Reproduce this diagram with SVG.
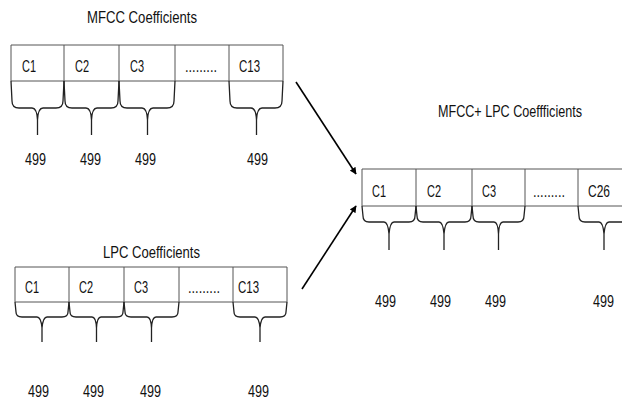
<svg xmlns="http://www.w3.org/2000/svg" width="622" height="400" viewBox="0 0 622 400">
<style>
text{font-family:"Liberation Sans Narrow","Liberation Sans",sans-serif;fill:#111}
.t{font-size:16px}
.c{font-size:17px}
.n{font-size:17px}
.box{fill:none;stroke:#555;stroke-width:1}
.br{fill:none;stroke:#222;stroke-width:1.3}
.ar{stroke:#000;stroke-width:1.6;fill:none}
</style>
<defs>
<marker id="ah" viewBox="0 0 10 10" refX="9" refY="5" markerWidth="7" markerHeight="7" orient="auto" markerUnits="userSpaceOnUse">
<path d="M0,0 L10,5 L0,10 z" fill="#000"/>
</marker>
</defs>
<rect width="622" height="400" fill="#fff"/>

<g id="mfcc">
<text class="t" x="87" y="23" textLength="110" lengthAdjust="spacingAndGlyphs">MFCC Coefficients</text>
<path class="box" d="M11,45 H283 M11,81 H283 M11,45 V81 M64,45 V81 M119,45 V81 M175,45 V81 M229,45 V81 M283,45 V81"/>
<text class="c" x="22" y="72" textLength="14" lengthAdjust="spacingAndGlyphs">C1</text>
<text class="c" x="75" y="72" textLength="14" lengthAdjust="spacingAndGlyphs">C2</text>
<text class="c" x="130" y="72" textLength="14" lengthAdjust="spacingAndGlyphs">C3</text>
<text class="c" x="185" y="72" textLength="32" lengthAdjust="spacingAndGlyphs">.........</text>
<text class="c" x="239" y="72" textLength="21" lengthAdjust="spacingAndGlyphs">C13</text>
<path class="br" d="M11,81 L12,101 Q12,108 19,108 L32,108 Q37,108 37.5,120 L37.5,135 M37.5,120 Q38,108 43,108 L56,108 Q63,108 63,101 L64,81"/>
<path class="br" d="M64,81 L65,101 Q65,108 72,108 L86,108 Q91,108 91.5,120 L91.5,135 M91.5,120 Q92,108 97,108 L111,108 Q118,108 118,101 L119,81"/>
<path class="br" d="M119,81 L120,101 Q120,108 127,108 L142,108 Q147,108 147.5,120 L147.5,135 M147.5,120 Q148,108 153,108 L167,108 Q174,108 174,101 L175,81"/>
<path class="br" d="M229,81 L230,101 Q230,108 237,108 L251,108 Q256,108 256.5,120 L256.5,135 M256.5,120 Q257,108 262,108 L275,108 Q282,108 282,101 L283,81"/>
<text class="n" x="25" y="165" textLength="21" lengthAdjust="spacingAndGlyphs">499</text>
<text class="n" x="80" y="165" textLength="21" lengthAdjust="spacingAndGlyphs">499</text>
<text class="n" x="135" y="165" textLength="21" lengthAdjust="spacingAndGlyphs">499</text>
<text class="n" x="247" y="165" textLength="21" lengthAdjust="spacingAndGlyphs">499</text>
</g>

<g id="lpc">
<text class="t" x="103" y="258" textLength="97" lengthAdjust="spacingAndGlyphs">LPC Coefficients</text>
<path class="box" d="M15,267 H287 M15,302 H287 M15,267 V302 M69,267 V302 M124,267 V302 M179,267 V302 M233,267 V302 M287,267 V302"/>
<text class="c" x="25" y="293" textLength="14" lengthAdjust="spacingAndGlyphs">C1</text>
<text class="c" x="79" y="293" textLength="14" lengthAdjust="spacingAndGlyphs">C2</text>
<text class="c" x="134" y="293" textLength="14" lengthAdjust="spacingAndGlyphs">C3</text>
<text class="c" x="188" y="293" textLength="32" lengthAdjust="spacingAndGlyphs">.........</text>
<text class="c" x="238" y="293" textLength="21" lengthAdjust="spacingAndGlyphs">C13</text>
<path class="br" d="M15,302 L16,312 Q16,317 22,317 L37,317 Q41,317 42,328 L42,342 M42,328 Q43,317 47,317 L62,317 Q68,317 68,312 L69,302"/>
<path class="br" d="M69,302 L70,312 Q70,317 76,317 L92,317 Q96,317 96.5,328 L96.5,342 M96.5,328 Q97,317 101,317 L117,317 Q123,317 123,312 L124,302"/>
<path class="br" d="M124,302 L125,312 Q125,317 131,317 L147,317 Q151,317 151.5,328 L151.5,342 M151.5,328 Q152,317 156,317 L172,317 Q178,317 178,312 L179,302"/>
<path class="br" d="M233,302 L234,312 Q234,317 240,317 L255,317 Q259,317 260,328 L260,342 M260,328 Q261,317 265,317 L280,317 Q286,317 286,312 L287,302"/>
<text class="n" x="28" y="397" textLength="21" lengthAdjust="spacingAndGlyphs">499</text>
<text class="n" x="83" y="397" textLength="21" lengthAdjust="spacingAndGlyphs">499</text>
<text class="n" x="140" y="397" textLength="21" lengthAdjust="spacingAndGlyphs">499</text>
<text class="n" x="248" y="397" textLength="21" lengthAdjust="spacingAndGlyphs">499</text>
</g>

<g id="combined">
<text class="t" x="438" y="117" textLength="144" lengthAdjust="spacingAndGlyphs">MFCC+ LPC Coeffficients</text>
<path class="box" d="M362,169 H640 M362,206 H640 M362,169 V206 M416,169 V206 M472,169 V206 M525,169 V206 M578,169 V206"/>
<text class="c" x="372" y="197" textLength="14" lengthAdjust="spacingAndGlyphs">C1</text>
<text class="c" x="427" y="197" textLength="14" lengthAdjust="spacingAndGlyphs">C2</text>
<text class="c" x="482" y="197" textLength="14" lengthAdjust="spacingAndGlyphs">C3</text>
<text class="c" x="533" y="197" textLength="32" lengthAdjust="spacingAndGlyphs">.........</text>
<text class="c" x="588" y="197" textLength="22" lengthAdjust="spacingAndGlyphs">C26</text>
<path class="br" d="M362,206 L363,216 Q363,222 369,222 L384,222 Q388,222 389,234 L389,250 M389,234 Q390,222 394,222 L409,222 Q415,222 415,216 L416,206"/>
<path class="br" d="M416,206 L417,216 Q417,222 423,222 L439,222 Q443,222 444,234 L444,250 M444,234 Q445,222 449,222 L465,222 Q471,222 471,216 L472,206"/>
<path class="br" d="M472,206 L473,216 Q473,222 479,222 L494,222 Q498,222 498.5,234 L498.5,250 M498.5,234 Q499,222 503,222 L518,222 Q524,222 524,216 L525,206"/>
<path class="br" d="M578,206 L579,216 Q579,222 585,222 L599,222 Q603,222 604,234 L604,250 M604,234 Q605,222 609,222 L624,222 Q630,222 630,216 L631,206"/>
<text class="n" x="375" y="307" textLength="21" lengthAdjust="spacingAndGlyphs">499</text>
<text class="n" x="430" y="307" textLength="21" lengthAdjust="spacingAndGlyphs">499</text>
<text class="n" x="485" y="307" textLength="21" lengthAdjust="spacingAndGlyphs">499</text>
<text class="n" x="593" y="307" textLength="21" lengthAdjust="spacingAndGlyphs">499</text>
</g>

<g id="connectors">
<line class="ar" x1="296" y1="82" x2="356" y2="174" marker-end="url(#ah)"/>
<line class="ar" x1="302" y1="289" x2="356" y2="206" marker-end="url(#ah)"/>
</g>
</svg>
